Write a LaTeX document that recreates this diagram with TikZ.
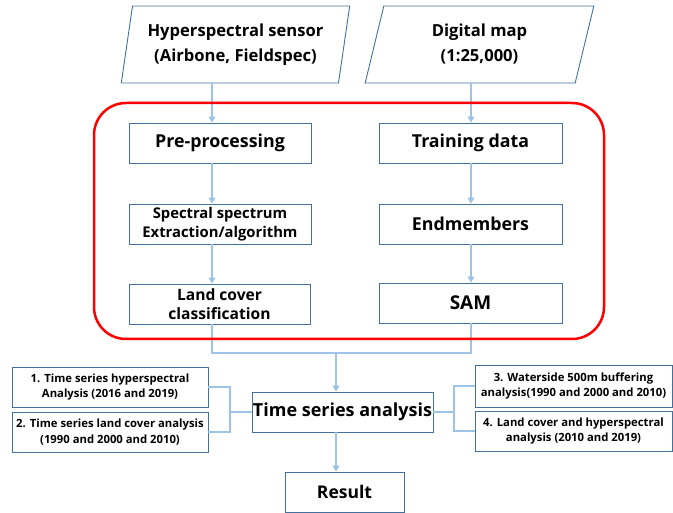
\documentclass[tikz,border=0pt]{standalone}
\usepackage{fontspec}
\setmainfont{Open Sans}
\usetikzlibrary{shapes.geometric,arrows.meta}
\definecolor{boxblue}{HTML}{41719C}
\definecolor{linkblue}{HTML}{9DC3E6}
\definecolor{framered}{HTML}{FF0000}
\begin{document}
\begin{tikzpicture}[x=1pt,y=-1pt,
  box/.style={draw=boxblue, line width=0.9pt, fill=white, minimum height=40pt, inner sep=0pt, align=center, text=black, font=\bfseries\fontsize{17.8}{21}\selectfont},
  twoline/.style={box, font=\bfseries\fontsize{14.8}{18.5}\selectfont},
  small/.style={box, font=\bfseries\fontsize{11.3}{15.5}\selectfont},
  para/.style={trapezium, trapezium left angle=77, trapezium right angle=103, trapezium stretches=true, draw=boxblue, line width=0.9pt, minimum width=229pt, minimum height=77pt, inner sep=0pt, align=center, text=black, font=\bfseries\fontsize{16.6}{25}\selectfont},
  link/.style={draw=linkblue, line width=1.2pt},
  arr/.style={link, -{Triangle[width=7pt,length=6pt]}},
  frame/.style={draw=framered, line width=2.5pt, rounded corners=32pt, inner sep=0pt}
]
\useasboundingbox (0,0) rectangle (673,513);
% inputs
\node[para] (hs) at (235.5,44.5) {Hyperspectral sensor\\(Airbone, Fieldspec)};
\node[para] (dm) at (479.5,44.5) {Digital map\\(1:25,000)};
% inner boxes
\node[box, minimum width=182pt] (pre) at (220,143) {Pre-processing};
\node[box, minimum width=183pt] (train) at (470.5,143) {Training data};
\node[twoline, minimum width=182pt] (spec) at (220,224) {Spectral spectrum\\Extraction/algorithm};
\node[twoline, minimum width=181pt, font=\bfseries\fontsize{15.6}{19}\selectfont] (land) at (219.5,304) {Land cover\\classification};
\node[box, minimum width=183pt] (endm) at (470.5,224) {Endmembers};
\node[box, minimum width=183pt, font=\bfseries\fontsize{19}{22}\selectfont] (sam) at (470.5,303) {SAM};
% analysis
\node[box, minimum width=181pt, font=\bfseries\fontsize{18}{23}\selectfont] (tsa) at (342.5,412) {Time series analysis};
\node[box, minimum width=119pt, font=\bfseries\fontsize{17.5}{22}\selectfont] (res) at (344.5,492) {Result};
\node[small, minimum width=196pt] (b1) at (110,387) {1. Time series hyperspectral\\Analysis (2016 and 2019)};
\node[small, minimum width=196pt] (b2) at (110,432) {2. Time series land cover analysis\\(1990 and 2000 and 2010)};
\node[small, minimum width=197pt, minimum height=42pt] (b3) at (573.5,386) {3. Waterside 500m buffering\\analysis(1990 and 2000 and 2010)};
\node[small, minimum width=197pt] (b4) at (573.5,431) {4. Land cover and hyperspectral\\analysis (2010 and 2019)};
% helper coordinates
\coordinate (lx) at (212,0);
\coordinate (rx) at (471,0);
\coordinate (mx) at (336,0);
\coordinate (merge) at (336,353);
\coordinate (lb) at (230,0);
\coordinate (rb) at (454,0);
% connectors
\draw[arr] (hs.south -| lx) -- (pre.north -| lx);
\draw[arr] (dm.south -| rx) -- (train.north -| rx);
\draw[arr] (pre.south -| lx) -- (spec.north -| lx);
\draw[arr] (spec.south -| lx) -- (land.north -| lx);
\draw[arr] (train.south -| rx) -- (endm.north -| rx);
\draw[arr] (endm.south -| rx) -- (sam.north -| rx);
\draw[link] (land.south -| lx) |- (merge) -| (sam.south -| rx);
\draw[arr] (merge) -- (tsa.north -| merge);
\draw[arr] (tsa.south -| mx) -- (res.north -| mx);
\draw[link] (b1.east) -| (tsa.west -| lb) |- (b2.east);
\draw[link] (tsa.west -| lb) -- (tsa.west);
\draw[link] (b3.west) -| (tsa.east -| rb) |- (b4.west);
\draw[link] (tsa.east) -- (tsa.east -| rb);
% red frame
\node[frame, minimum width=510pt, minimum height=236pt] (redframe) at (349,221) {};
\end{tikzpicture}
\end{document}
